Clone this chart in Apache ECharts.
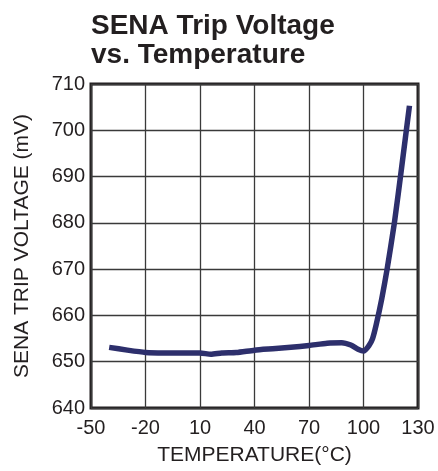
<!DOCTYPE html>
<html>
<head>
<meta charset="utf-8">
<script src="https://cdn.jsdelivr.net/npm/echarts@6/dist/echarts.min.js"></script>
<style>
html,body{margin:0;padding:0;background:#fff;}
#c{width:438px;height:471px;}
</style>
</head>
<body>
<div id="c"></div>
<script>
var titleLines = ["SENA Trip Voltage", "vs. Temperature"];
var xName = "TEMPERATURE(°C)";
var yName = "SENA TRIP VOLTAGE (mV)";
var temperature = [-40, -30, -20, -10, 0, 10, 16, 22, 30, 40, 50, 60, 70, 80, 88, 93, 97, 100, 103, 105, 107, 110, 113, 117, 121, 125.3];
var voltage = [653.1, 652.5, 652.0, 651.9, 651.9, 651.9, 651.6, 651.9, 652.0, 652.5, 652.8, 653.1, 653.5, 654.0, 654.1, 653.6, 652.7, 652.3, 653.5, 655.0, 658.0, 663.5, 670.0, 680.0, 692.0, 705.3];
var xMin = -50, xMax = 130, xStep = 30;
var yMin = 640, yMax = 710, yStep = 10;

var pts = temperature.map(function (t, i) { return [t, voltage[i]]; });
var font = "'Liberation Sans', Arial, sans-serif";
var chart = echarts.init(document.getElementById('c'));
chart.setOption({
  animation: false,
  backgroundColor: '#fff',
  title: {
    text: titleLines.join('\n'),
    left: 86, top: 7,
    textStyle: { fontFamily: font, fontWeight: 'bold', fontSize: 28, lineHeight: 29, color: '#231f20' }
  },
  grid: { left: 91, right: 20, top: 84, bottom: 59, show: true, borderColor: '#231f20', borderWidth: 3, backgroundColor: 'transparent' },
  xAxis: {
    type: 'value', min: xMin, max: xMax, interval: xStep,
    name: xName, nameLocation: 'middle', nameGap: 37,
    nameTextStyle: { fontFamily: font, fontSize: 21, color: '#231f20' },
    axisLine: { show: false }, axisTick: { show: false },
    axisLabel: { fontFamily: font, fontSize: 20, color: '#231f20', margin: 10 },
    splitLine: { show: true, lineStyle: { color: '#3a3a3a', width: 1.3 } }
  },
  yAxis: {
    type: 'value', min: yMin, max: yMax, interval: yStep,
    name: yName, nameLocation: 'middle', nameGap: 58, nameRotate: 90,
    nameTextStyle: { fontFamily: font, fontSize: 21, color: '#231f20' },
    axisLine: { show: false }, axisTick: { show: false },
    axisLabel: { fontFamily: font, fontSize: 20, color: '#231f20', margin: 6 },
    splitLine: { show: true, lineStyle: { color: '#3a3a3a', width: 1.3 } }
  },
  series: [{
    type: 'line', data: pts, smooth: 0.2, showSymbol: false, symbol: 'none',
    lineStyle: { color: '#2d2f6c', width: 5.5, cap: 'butt', join: 'round' }
  }]
});
</script>
</body>
</html>
